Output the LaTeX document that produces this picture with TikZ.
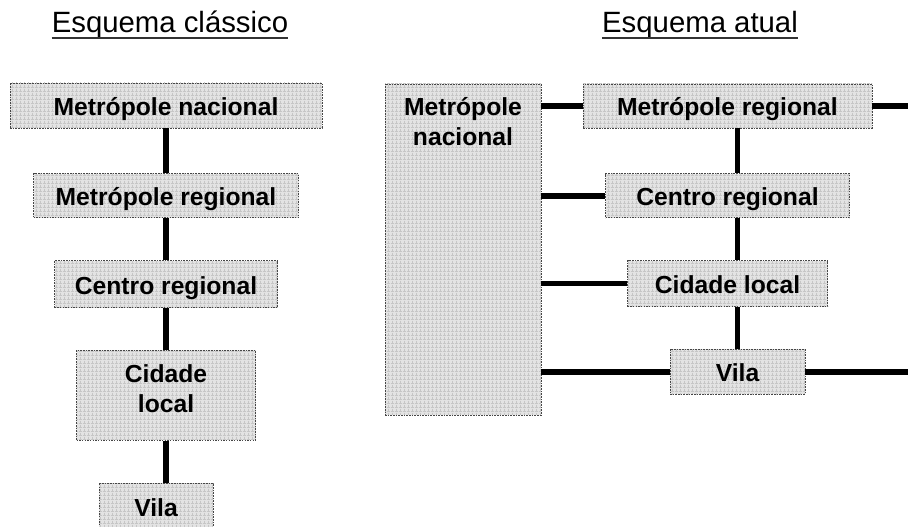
\documentclass[tikz,border=0pt]{standalone}
\usepackage{fontspec}
\setmainfont{Liberation Sans}
\usetikzlibrary{positioning, patterns}

\begin{document}
\begin{tikzpicture}[x=0.75pt, y=-0.75pt, node distance=31.5pt,
        place node/.style={rectangle, draw=gray!55!black, dash pattern=on 1.2pt off 0.8pt, line width=0.6pt,
            preaction={fill=gray!22}, pattern=grid, pattern color=gray!45,
            inner sep=0pt, minimum height=33.75pt, align=center, text height=15pt, text depth=0pt,
            font=\fontsize{18.5}{22.5}\selectfont\bfseries},
        title node/.style={inner sep=0pt, font=\fontsize{22}{26}\selectfont},
        link/.style={line width=4.2pt}]
    \useasboundingbox (0,0) rectangle (908,527);
    \coordinate (rim) at (908,0);

    % titles
    \node[title node, anchor=base] (t1) at (170,33) {Esquema clássico};
    \node[title node, anchor=base] (t2) at (700,33) {Esquema atual};
    \draw[line width=1.1pt, gray!40!black] ([yshift=-3.8pt]t1.base west) -- ([yshift=-3.8pt]t1.base east);
    \draw[line width=1.1pt, gray!40!black] ([yshift=-3.8pt]t2.base west) -- ([yshift=-3.8pt]t2.base east);

    % classic scheme
    \node[place node, minimum width=234pt] (mn) at (166,105.5) {Metrópole nacional};
    \node[place node, minimum width=198.75pt, minimum height=33pt, below=33.75pt of mn] (mr) {Metrópole regional};
    \node[place node, minimum width=167.25pt, minimum height=35.25pt, below=of mr] (cr) {Centro regional};
    \node[place node, minimum width=134.25pt, minimum height=67.5pt, text height={}, text depth=10.5pt, below=of cr] (cl) {Cidade\\local};
    \node[place node, minimum width=85.5pt, minimum height=34.5pt, below=of cl, xshift=-7.5pt] (vi) {Vila};

    % current scheme
    \node[place node, minimum width=117pt, minimum height=248.25pt] (mn2) at (463,249.5) {};
    \node[align=center, inner sep=0pt, anchor=north, font=\fontsize{18.5}{22.5}\selectfont\bfseries]
        (mn2txt) at ([yshift=-10.5pt]mn2.north) {Metrópole\\nacional};
    \node[place node, minimum width=216.75pt, minimum height=33pt] (mr2) at (727.5,106) {Metrópole regional};
    \node[place node, minimum width=183pt, minimum height=33pt, below=33.75pt of mr2] (cr2) {Centro regional};
    \node[place node, minimum width=150pt, minimum height=34.5pt, below=of cr2] (cl2) {Cidade local};
    \node[place node, minimum width=101.25pt, below=of cl2, xshift=7.5pt] (vi2) {Vila};

    \path[link]
    (mn) edge (mr)
    (mr) edge (cr)
    (cr) edge (cl)
    (cl) edge (cl.south |- vi.north)
    (mr2.west -| mn2.east) edge (mr2.west)
    (cr2.west -| mn2.east) edge (cr2.west)
    (cl2.west -| mn2.east) edge (cl2.west)
    (vi2.west -| mn2.east) edge (vi2.west)
    (mr2.east) edge (mr2.east -| rim)
    (vi2.east) edge (vi2.east -| rim)
    (vi2.north |- mr2.south) edge (vi2.north |- cr2.north)
    (vi2.north |- cr2.south) edge (vi2.north |- cl2.north)
    (vi2.north |- cl2.south) edge (vi2.north);
\end{tikzpicture}
\end{document}
